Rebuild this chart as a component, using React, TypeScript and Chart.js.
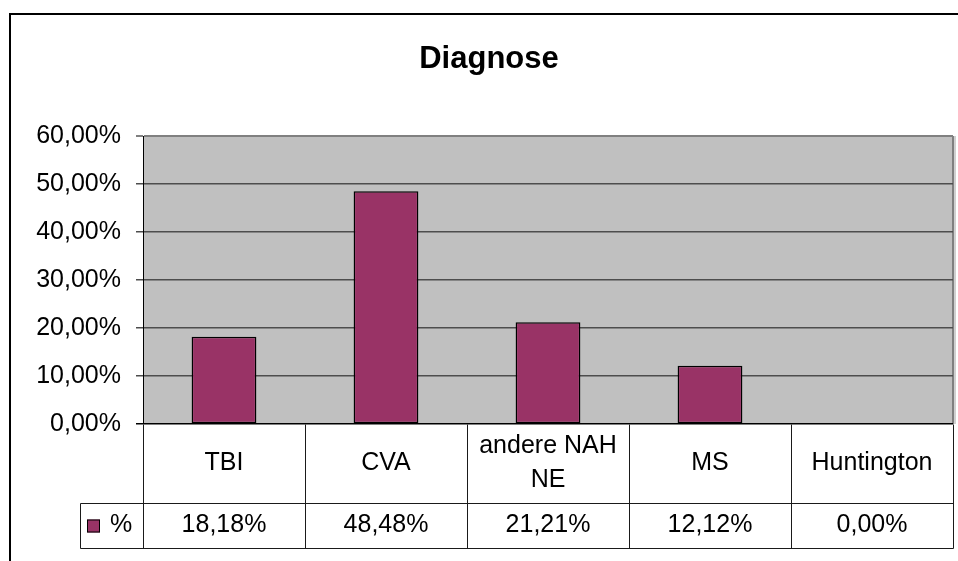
import React, { useEffect, useRef } from "react";
import { Chart, registerables } from "chart.js";

Chart.register(...registerables);

const title = "Diagnose";
const categories: (string | string[])[] = ["TBI", "CVA", ["andere NAH", "NE"], "MS", "Huntington"];
const seriesName = "%";
const values = [18.18, 48.48, 21.21, 12.12, 0.0];
const yMax = 60;
const yStep = 10;

const FONT = "'Liberation Sans', Arial, sans-serif";
const BAR_COLOR = "#993366";
const TEXT_SIZE = 25;

const fmt = (v: number) => v.toFixed(2).replace(".", ",") + "%";

const framePlugin = {
  id: "framePlugin",
  beforeDraw(chart: any) {
    const { ctx, chartArea: a } = chart;
    ctx.save();
    ctx.fillStyle = "#ffffff";
    ctx.fillRect(0, 0, chart.width, chart.height);
    // outer frame
    ctx.fillStyle = "#000000";
    ctx.fillRect(9, 13, chart.width, 2);
    ctx.fillRect(9, 13, 2, chart.height);
    // plot background
    ctx.fillStyle = "#c0c0c0";
    ctx.fillRect(a.left, a.top, a.right - a.left, a.bottom - a.top);
    // right border of plot
    ctx.fillStyle = "#808080";
    ctx.fillRect(a.right - 1, a.top, 2, a.bottom - a.top);
    ctx.fillStyle = "#d0d0d0";
    ctx.fillRect(a.right + 1, a.top, 2, a.bottom - a.top);
    // title
    ctx.fillStyle = "#000";
    ctx.font = `bold 31px ${FONT}`;
    ctx.textAlign = "center";
    ctx.textBaseline = "middle";
    ctx.fillText(title, 489, 59);
    ctx.restore();
  },
  afterDraw(chart: any) {
    const { ctx, chartArea: a } = chart;
    const x = chart.scales.x;
    const n = categories.length;
    const colW = (a.right - a.left) / n;
    const headTop = a.bottom;
    const headBottom = a.bottom + 79;
    const rowBottom = headBottom + 45;
    const legendLeft = 80;
    ctx.save();
    ctx.strokeStyle = "#1a1a1a";
    ctx.lineWidth = 1;
    const line = (x1: number, y1: number, x2: number, y2: number) => {
      ctx.beginPath();
      ctx.moveTo(Math.round(x1) + 0.5, Math.round(y1) + 0.5);
      ctx.lineTo(Math.round(x2) + 0.5, Math.round(y2) + 0.5);
      ctx.stroke();
    };
    for (let i = 0; i <= n; i++) {
      const bx = i < n ? x.getPixelForValue(i) - colW / 2 : x.getPixelForValue(n - 1) + colW / 2;
      line(bx, headTop, bx, rowBottom);
    }
    line(legendLeft, headBottom, a.right, headBottom);
    line(legendLeft, rowBottom, a.right, rowBottom);
    line(legendLeft, headBottom, legendLeft, rowBottom);

    ctx.fillStyle = "#000000";
    ctx.font = `${TEXT_SIZE}px ${FONT}`;
    ctx.textAlign = "center";
    ctx.textBaseline = "middle";
    categories.forEach((c, i) => {
      const cx = x.getPixelForValue(i);
      const lines = Array.isArray(c) ? c : [c];
      const lh = 34;
      const mid = (headTop + headBottom) / 2;
      lines.forEach((t, j) => {
        ctx.fillText(t, cx, mid + (j - (lines.length - 1) / 2) * lh);
      });
      ctx.fillText(fmt(values[i]), cx, (headBottom + rowBottom) / 2);
    });
    // legend cell
    const rowMid = (headBottom + rowBottom) / 2;
    ctx.fillStyle = BAR_COLOR;
    ctx.fillRect(87, rowMid - 6, 13, 13);
    ctx.strokeStyle = "#000";
    ctx.strokeRect(87.5, rowMid - 5.5, 12, 12);
    ctx.fillStyle = "#000";
    ctx.textAlign = "left";
    ctx.fillText(seriesName, 110, rowMid);
    ctx.restore();
  },
};

export default function App() {
  const ref = useRef<HTMLCanvasElement>(null);
  useEffect(() => {
    if (!ref.current) return;
    const chart = new Chart(ref.current, {
      type: "bar",
      data: {
        labels: categories as any,
        datasets: [
          {
            label: seriesName,
            data: values,
            backgroundColor: BAR_COLOR,
            borderColor: "#000000",
            borderWidth: 1.5,
            borderSkipped: false,
            barPercentage: 0.4,
            categoryPercentage: 1,
          },
        ],
      },
      options: {
        responsive: false,
        animation: false,
        layout: { padding: { left: 0, right: 5, top: 136, bottom: 137 } },
        plugins: {
          legend: { display: false },
          tooltip: { enabled: false },
          title: { display: false },
        },
        scales: {
          x: { display: false, offset: true, grid: { display: false } },
          y: {
            min: 0,
            max: yMax,
            afterFit: (s: any) => {
              s.width = 143;
            },
            ticks: {
              stepSize: yStep,
              color: "#000",
              padding: 15,
              font: { family: FONT, size: TEXT_SIZE },
              callback: (v: any) => fmt(Number(v)),
            },
            grid: {
              tickLength: 7,
              lineWidth: (c: any) => (c.tick && c.tick.value === yMax ? 2 : 1.5),
              color: (c: any) =>
                c.tick && c.tick.value === 0 ? "#000" : c.tick && c.tick.value === yMax ? "#808080" : "#4d4d4d",
            },
            border: { display: true, color: "#000", width: 1 },
          },
        },
      },
      plugins: [framePlugin],
    });
    return () => chart.destroy();
  }, []);
  return (
    <div style={{ position: "fixed", left: 0, top: 0, width: 958, height: 561, background: "#fff" }}>
      <canvas ref={ref} width={958} height={561} style={{ width: 958, height: 561, display: "block" }} />
    </div>
  );
}
